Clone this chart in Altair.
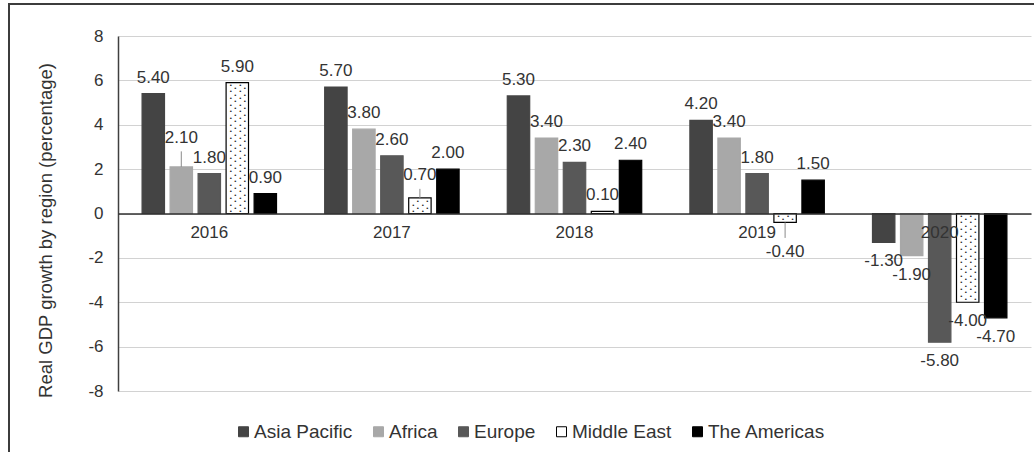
import altair as alt
import pandas as pd

# Real GDP growth by region, 2016-2020 (percent)
years = ["2016", "2017", "2018", "2019", "2020"]
regions = ["Asia Pacific", "Africa", "Europe", "Middle East", "The Americas"]
asia_pacific = [5.40, 5.70, 5.30, 4.20, -1.30]
africa = [2.10, 3.80, 3.40, 3.40, -1.90]
europe = [1.80, 2.60, 2.30, 1.80, -5.80]
middle_east = [5.90, 0.70, 0.10, -0.40, -4.00]
the_americas = [0.90, 2.00, 2.40, 1.50, -4.70]
y_ticks = [-8, -6, -4, -2, 0, 2, 4, 6, 8]

series = [asia_pacific, africa, europe, middle_east, the_americas]
df = pd.DataFrame(
    [{"year": y, "region": r, "value": v}
     for r, vals in zip(regions, series)
     for y, v in zip(years, vals)]
)

fills = ["#444444", "#a8a8a8", "#585858", "#ffffff", "#000000"]
strokes = ["#444444", "#a8a8a8", "#585858", "#000000", "#000000"]

FONT = "Liberation Sans"
TEXT = "#333333"
W, H = 913, 355

x_enc = alt.X(
    "year:N", sort=years,
    scale=alt.Scale(domain=years, paddingInner=0, paddingOuter=0),
    axis=alt.Axis(title=None, orient="bottom", offset=-H / 2, labelAngle=0,
                  ticks=False, labelPadding=11, domainColor="#303030",
                  domainWidth=1.5, labelFontSize=17, labelFont=FONT,
                  labelColor=TEXT, grid=False, zindex=1),
)
xo_enc = alt.XOffset(
    "region:N", sort=regions,
    scale=alt.Scale(domain=regions, paddingInner=0.2, paddingOuter=0.86),
)
y_axis = alt.Axis(
    values=y_ticks, title="Real GDP growth by region  (percentage)",
    labelExpr="datum.value < 0 ? '-' + abs(datum.value) : '' + datum.value",
    ticks=False, labelPadding=15, labelFontSize=17, labelFont=FONT,
    labelColor=TEXT, domainColor="#404040", domainWidth=1.5,
    gridColor="#d2d2d2", gridWidth=1, titleFont=FONT, titleFontSize=18.5,
    titleFontWeight="normal", titleColor=TEXT, titleAngle=270,
    titleAlign="center", titleBaseline="middle", titleX=-73, titleY=194,
)


def y_enc(field):
    return alt.Y(f"{field}:Q", scale=alt.Scale(domain=[-8, 8], nice=False),
                 axis=y_axis)


legend = alt.Legend(
    orient="none", direction="horizontal", legendX=116, legendY=386,
    title=None, symbolType="square", symbolSize=100, symbolStrokeWidth=1,
    labelFontSize=19, labelFont=FONT, labelColor=TEXT, labelOffset=1,
    columnPadding=16, padding=0,
)

bars = alt.Chart(df).mark_bar(strokeWidth=1.2).encode(
    x=x_enc, xOffset=xo_enc, y=y_enc("value"),
    fill=alt.Fill("region:N", sort=regions,
                  scale=alt.Scale(domain=regions, range=fills), legend=legend),
    stroke=alt.Stroke("region:N", sort=regions,
                      scale=alt.Scale(domain=regions, range=strokes),
                      legend=legend),
)

# dotted fill of the Middle East bars
dots_base = (
    alt.Chart(df)
    .transform_filter("datum.region == 'Middle East'")
    .transform_calculate(rows="sequence(0.1, abs(datum.value) - 0.04, 0.15)")
    .transform_flatten(["rows"])
    .transform_calculate(
        dot="datum.value < 0 ? -datum.rows : datum.rows",
        odd="round((datum.rows - 0.1) / 0.15) % 2",
    )
)
dot_layers = []
for parity, offsets in [(0, [-6.5, 3.0]), (1, [-2.0, 7.5])]:
    for off in offsets:
        dot_layers.append(
            dots_base.transform_filter(f"datum.odd == {parity}")
            .mark_text(text="\u2022", fontSize=6, color="#222222", dx=off,
                       baseline="middle", align="center")
            .encode(x=x_enc, xOffset=xo_enc, y=y_enc("dot"))
        )

moved = {
    ("2016", "Africa"): -29,
    ("2017", "Middle East"): -23,
    ("2019", "Middle East"): 30,
}
moved_expr = " || ".join(
    f"(datum.year == '{y}' && datum.region == '{r}')" for (y, r) in moved
)

label_base = alt.Chart(df).transform_calculate(
    label="(datum.value < 0 ? '-' : '') + format(abs(datum.value), '.2f')"
).encode(x=x_enc, xOffset=xo_enc, y=y_enc("value"), text="label:N")

text_style = dict(fontSize=17, font=FONT, color=TEXT, baseline="middle")
label_layers = [
    label_base.transform_filter(f"datum.value >= 0 && !({moved_expr})")
    .mark_text(dy=-16, **text_style),
    label_base.transform_filter(f"datum.value < 0 && !({moved_expr})")
    .mark_text(dy=19, **text_style),
]
for (y, r), dy in moved.items():
    label_layers.append(
        label_base.transform_filter(
            f"datum.year == '{y}' && datum.region == '{r}'"
        ).mark_text(dy=dy, **text_style)
    )

# short leader lines to the displaced labels
leaders = (
    alt.Chart(df)
    .transform_filter(moved_expr)
    .transform_calculate(
        tip="datum.value + (datum.value >= 0 ? 1 : -1) * "
            "(datum.year == '2017' ? 0.41 : 0.7)"
    )
    .mark_rule(color="#8a8a8a", strokeWidth=1)
    .encode(x=x_enc, xOffset=xo_enc, y=y_enc("value"), y2="tip:Q")
)

frame = alt.Chart(pd.DataFrame({"k": [0]})).mark_rect(
    fill="white", fillOpacity=0, stroke="#3c3c3c", strokeWidth=2
).encode(x=alt.value(-109), x2=alt.value(W + 30),
         y=alt.value(-32), y2=alt.value(H + 120))

chart = (
    alt.layer(bars, *dot_layers, leaders, *label_layers, frame)
    .properties(
        width=W, height=H,
        autosize=alt.AutoSizeParams(type="none"),
        padding={"left": 118, "top": 36, "right": 3, "bottom": 61},
        background="white",
    )
    .configure_view(stroke=None)
)

chart.save("out.html", embed_options={"renderer": "svg", "actions": False})
